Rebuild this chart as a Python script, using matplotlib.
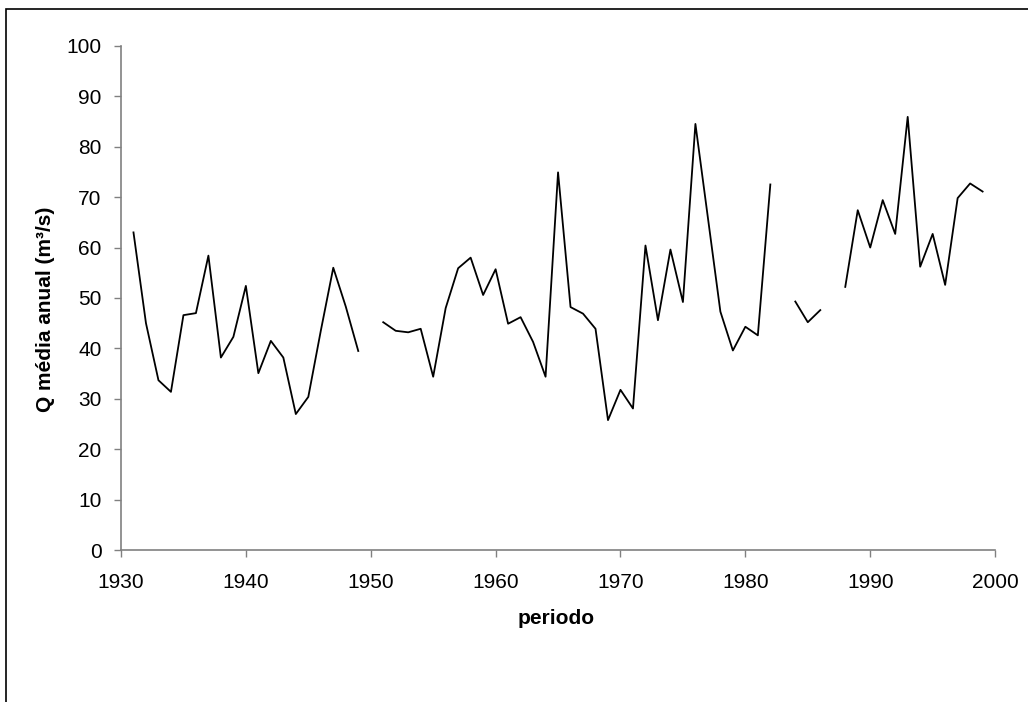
import numpy as np
import matplotlib
matplotlib.use("Agg")
import matplotlib.pyplot as plt
from matplotlib.patches import Rectangle

plt.rcParams['font.family'] = ['Liberation Sans', 'DejaVu Sans']

# annual mean discharge, NaN = missing year
years = list(range(1931, 2000))
q_media = [63.0, 45.0, 33.7, 31.4, 46.6, 47.0, 58.4, 38.2, 42.3, 52.4,
           35.1, 41.5, 38.2, 27.0, 30.4, 43.5, 56.0, 48.3, 39.5, np.nan,
           45.2, 43.5, 43.2, 43.9, 34.4, 48.0, 55.9, 58.0, 50.6, 55.7,
           44.9, 46.2, 41.3, 34.4, 74.9, 48.2, 46.9, 43.9, 25.8, 31.8,
           28.1, 60.4, 45.6, 59.6, 49.2, 84.5, 65.9, 47.3, 39.6, 44.3,
           42.6, 72.5, np.nan, 49.3, 45.2, 47.6, np.nan, 52.2, 67.4, 60.0,
           69.4, 62.7, 85.9, 56.2, 62.7, 52.6, 69.8, 72.7, 71.1]
x_ticks = list(range(1930, 2001, 10))
y_ticks = list(range(0, 101, 10))

fig = plt.figure(figsize=(10.28, 7.02), dpi=100)
ax = fig.add_axes([0.1177, 0.2161, 0.8503, 0.7188])

ax.plot(years, q_media, color='black', lw=1.3)

ax.set_xlim(1930, 2000)
ax.set_ylim(0, 100)
ax.set_xticks(x_ticks)
ax.set_yticks(y_ticks)
ax.tick_params(direction='out', length=5, width=1, color='#808080',
               labelsize=15)
ax.tick_params(axis='x', pad=11)
ax.tick_params(axis='y', pad=9)

for s in ['top', 'right']:
    ax.spines[s].set_visible(False)
for s in ['left', 'bottom']:
    ax.spines[s].set_color('#808080')
    ax.spines[s].set_linewidth(1.2)

ax.set_xlabel('periodo', fontsize=15, fontweight='bold')
ax.set_ylabel('Q média anual (m³/s)', fontsize=15, fontweight='bold')
ax.xaxis.set_label_coords(0.498, -0.117)
ax.yaxis.set_label_coords(-0.0755, 0.478)

# outer frame (chart area border, cut off on right and bottom)
fig.patches.append(Rectangle((6 / 1028, -0.1), 1.2, 1 - 9 / 702 + 0.1,
                             transform=fig.transFigure, fill=False,
                             edgecolor='black', lw=1.2))

fig.savefig('out.png', dpi=100)
